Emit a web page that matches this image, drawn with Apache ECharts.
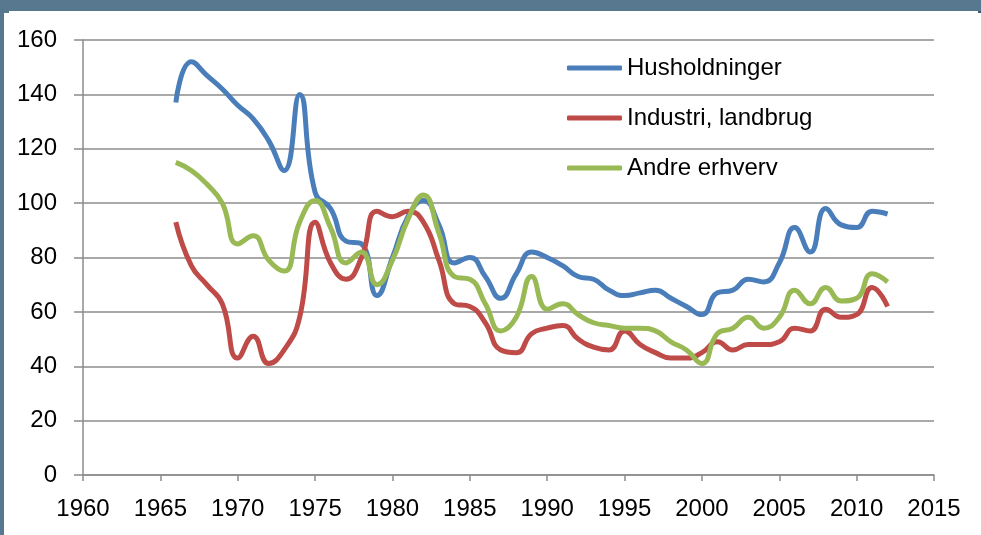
<!DOCTYPE html>
<html>
<head>
<meta charset="utf-8">
<script src="https://cdn.jsdelivr.net/npm/echarts@6/dist/echarts.min.js"></script>
<style>
    html, body { margin: 0; padding: 0; background: #fff; }
    #chart { width: 981px; height: 535px; }
</style>
</head>
<body>
<div id="chart"></div>
<script>
// år for hver måling
var years = [1966, 1967, 1968, 1969, 1970, 1971, 1972, 1973, 1974, 1975,
    1976, 1977, 1978, 1979, 1980, 1981, 1982, 1983, 1984, 1985,
    1986, 1987, 1988, 1989, 1990, 1991, 1992, 1993, 1994, 1995,
    1996, 1997, 1998, 1999, 2000, 2001, 2002, 2003, 2004, 2005,
    2006, 2007, 2008, 2009, 2010, 2011, 2012];

var husholdninger = [137, 152, 147, 142, 136, 131, 123, 112, 140, 104,
    98, 86, 85, 66, 80, 95, 101, 92, 78, 80,
    73, 65, 74, 82, 80, 77, 73, 72, 68, 66,
    67, 68, 65, 62, 59, 67, 68, 72, 71, 78,
    91, 82, 98, 92, 91, 97, 96];

var industri = [93, 77, 70, 63, 43, 51, 41, 46, 58, 93,
    78, 72, 80, 97, 95, 97, 93, 79, 63, 62,
    56, 46, 45, 52, 54, 55, 50, 47, 46, 53,
    48, 45, 43, 43, 45, 49, 46, 48, 48, 49,
    54, 53, 61, 58, 59, 69, 62];

var andreErhverv = [115, 112, 107, 100, 85, 88, 79, 75, 93, 101,
    91, 78, 82, 70, 79, 94, 103, 89, 73, 72,
    63, 53, 58, 73, 61, 63, 59, 56, 55, 54,
    54, 53, 49, 46, 41, 52, 54, 58, 54, 58,
    68, 63, 69, 64, 65, 74, 71];

var seriesNames = ["Husholdninger", "Industri, landbrug", "Andre erhverv"];
var colors = ["#4a7ebb", "#be4b48", "#98b954"];

var FONT = "Liberation Sans";

function pairs(vals) {
    return years.map(function (y, i) {
        return [y, vals[i]];
    });
}

var chart = echarts.init(document.getElementById("chart"));

var seriesData = [husholdninger, industri, andreErhverv];

chart.setOption({
    backgroundColor: "#fff",
    animation: false,
    // blå ramme fra det oprindelige dokument (titlen er skåret af)
    graphic: [
        { type: "rect", left: 0, top: 0, shape: { width: 981, height: 11 }, style: { fill: "#58788f" } },
        { type: "rect", left: 0, top: 0, shape: { width: 4, height: 535 }, style: { fill: "#58788f" } },
        { type: "rect", left: 0, top: 11, shape: { width: 9, height: 2 }, style: { fill: "#58788f" } },
        { type: "rect", left: 978, top: 11, shape: { width: 3, height: 2 }, style: { fill: "#3f5a70" } }
    ],
    grid: {
        left: 83,
        right: 47,
        top: 40,
        bottom: 60
    },
    legend: {
        orient: "vertical",
        left: 567,
        top: 54,
        padding: 0,
        itemWidth: 55,
        itemHeight: 5,
        itemGap: 22,
        icon: "roundRect",
        data: seriesNames,
        textStyle: {
            fontFamily: FONT,
            fontSize: 24,
            color: "#000",
            lineHeight: 28
        }
    },
    xAxis: {
        type: "value",
        min: 1960,
        max: 2015,
        interval: 5,
        axisLine: { lineStyle: { color: "#8c8c8c", width: 1.5 } },
        axisTick: { show: true, length: 6, lineStyle: { color: "#8c8c8c", width: 1.5 } },
        splitLine: { show: false },
        axisLabel: {
            fontFamily: FONT,
            fontSize: 24,
            color: "#000",
            margin: 22,
            formatter: function (v) { return String(v); }
        }
    },
    yAxis: {
        type: "value",
        min: 0,
        max: 160,
        interval: 20,
        axisLine: { show: true, lineStyle: { color: "#8c8c8c", width: 1.5 } },
        axisTick: { show: true, length: 9, lineStyle: { color: "#8c8c8c", width: 1.5 } },
        splitLine: { lineStyle: { color: "#8c8c8c", width: 1.5 } },
        axisLabel: {
            fontFamily: FONT,
            fontSize: 24,
            color: "#000",
            margin: 26
        }
    },
    series: seriesNames.map(function (name, i) {
        return {
            name: name,
            type: "line",
            smooth: 0.5,
            symbol: "none",
            data: pairs(seriesData[i]),
            lineStyle: { color: colors[i], width: 5 },
            itemStyle: { color: colors[i] }
        };
    })
});
</script>
</body>
</html>
